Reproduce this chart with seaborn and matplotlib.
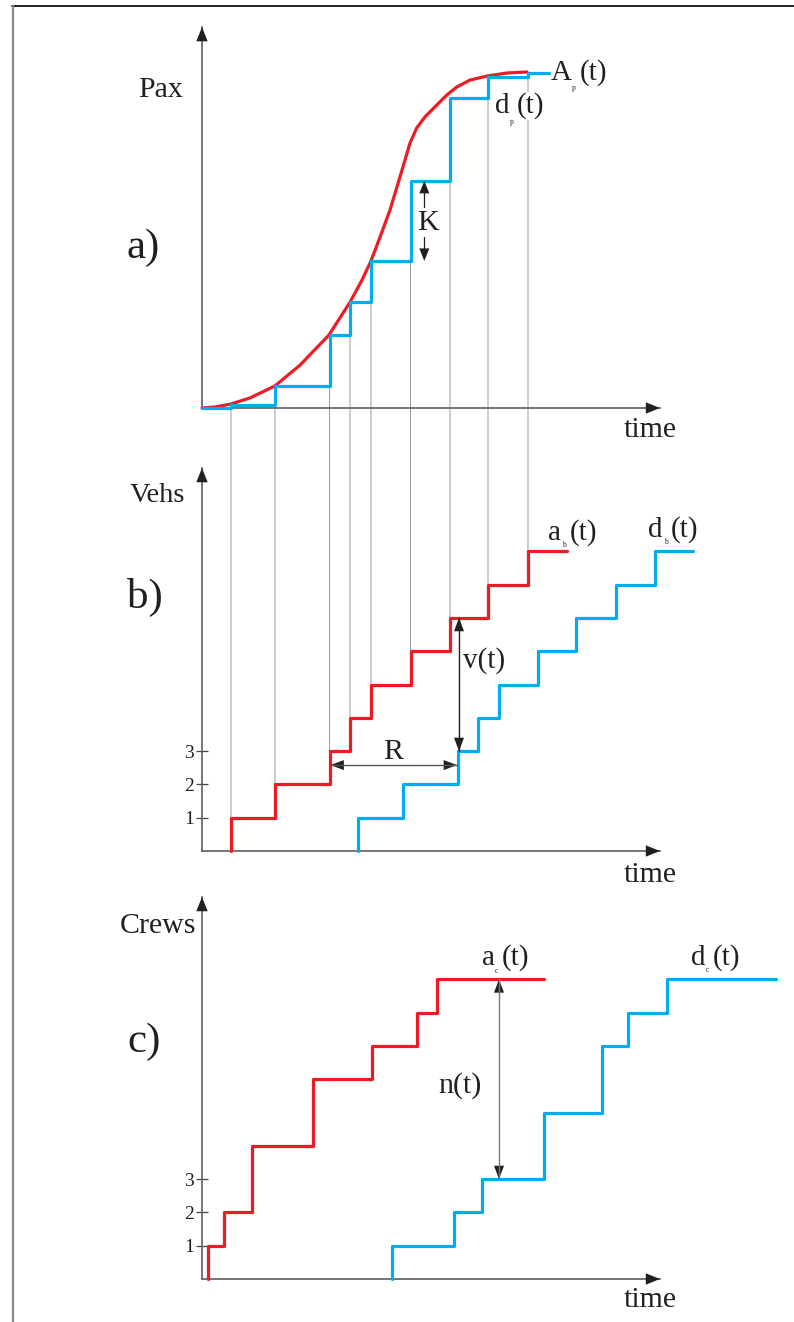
import matplotlib
matplotlib.use("Agg")
import matplotlib.pyplot as plt
from matplotlib.patches import ConnectionPatch
from matplotlib.lines import Line2D
import seaborn as sns

# ---------------- data ----------------
# panel a) passengers (Pax, % of total) against time (arbitrary units)
ap_time = [0, 1.3, 2.9, 4.8, 7.3, 9.8, 12.7, 14.8, 16.0, 16.9, 17.8, 18.8, 19.8,
           20.3, 20.8, 21.47, 22.3, 23.3, 24.47, 25.47, 26.8, 28.5, 30.5, 32.5]
ap_pax = [0, 0.3, 1.2, 3.0, 6.6, 12.8, 21.8, 31.6, 38.2, 43.9, 51.0, 59.1, 69.0,
          74.0, 79.1, 83.6, 86.9, 89.9, 93.4, 95.8, 97.9, 99.1, 100.0, 100.3]

# vehicle departures with passengers = vehicle arrivals a_b(t)
veh_arr_times = [2.9, 7.3, 12.75, 14.8, 16.9, 20.85, 24.8, 28.6, 32.6]
dp_levels = [0.9, 6.6, 21.8, 31.6, 43.9, 67.8, 92.6, 98.9, 100.0]
dp_end = 34.7

# panel b) vehicles
ab_levels = [1, 2, 3, 4, 5, 6, 7, 8, 9]
ab_end = 36.5
db_times = [15.55, 20.07, 25.55, 27.6, 29.7, 33.57, 37.4, 41.35, 45.3]
db_levels = [1, 2, 3, 4, 5, 6, 7, 8, 9]
db_end = 49.1

# panel c) crews
ac_times = [0.63, 2.2, 4.97, 11.13, 16.97, 21.47, 23.47]
ac_levels = [1, 2, 4, 6, 7, 8, 9]
ac_end = 34.2
dc_times = [19.03, 25.23, 28.03, 34.2, 39.97, 42.57, 46.53]
dc_levels = [1, 2, 3, 5, 7, 8, 9]
dc_end = 57.4

tick_vals = [1, 2, 3]
tick_labels = ["1", "2", "3"]

RED = "#ED1C24"
BLUE = "#00AEEF"
INK = "#231F20"
AXC = "#5f5f5f"

# ---------------- figure ----------------
sns.set_theme(style="white")
plt.rcParams["font.family"] = ["Liberation Serif", "DejaVu Serif"]

W, H = 794, 1322
fig = plt.figure(figsize=(W / 100, H / 100), dpi=100)
fig.patch.set_facecolor("white")

X0 = 202          # pixel column of all time origins
TSCALE = 10.0     # pixels per time unit


def make_ax(y0, ytop, yscale):
    ax = fig.add_axes([X0 / W, 1 - y0 / H, (W - X0) / W, (y0 - ytop) / H])
    ax.set_xlim(0, (W - X0) / TSCALE)
    ax.set_ylim(0, (y0 - ytop) / yscale)
    ax.patch.set_visible(False)
    for s in ["top", "right"]:
        ax.spines[s].set_visible(False)
    for s in ["left", "bottom"]:
        ax.spines[s].set_color(AXC)
        ax.spines[s].set_linewidth(1.2)
    ax.set_xticks([])
    ax.set_yticks([])
    ax.grid(False)
    return ax


ax_a = make_ax(408, 15, 3.35)
ax_b = make_ax(851, 455, 33.3)
ax_c = make_ax(1279, 885, 33.3)


def head(ax, xy, frm, color=INK, hl=0.85, hw=0.34):
    ax.annotate("", xy=xy, xytext=frm,
                arrowprops=dict(arrowstyle=f"-|>,head_length={hl},head_width={hw}",
                                color=color, lw=0.01, shrinkA=0, shrinkB=0),
                annotation_clip=False)


def axis_arrows(ax, xtip, ytip):
    ax.spines["left"].set_bounds(0, ytip)
    ax.spines["bottom"].set_bounds(0, xtip)
    head(ax, (0, ytip), (0, 0))
    head(ax, (xtip, 0), (0, 0))


axis_arrows(ax_a, 45.8, 113.7)
axis_arrows(ax_b, 45.8, 11.5)
axis_arrows(ax_c, 45.8, 11.47)

for ax in (ax_b, ax_c):
    ax.set_yticks(tick_vals)
    ax.set_yticklabels(tick_labels)
    ax.tick_params(axis="y", direction="inout", length=8, width=0.9,
                   color="#444444", labelsize=14, labelcolor=INK, pad=2, left=True)


def steps(ax, start, times, levels, end, color, base=0):
    xs = [start] + list(times) + [end]
    ys = [base] + list(levels) + [levels[-1]]
    sns.lineplot(x=xs, y=ys, ax=ax, color=color, lw=2.3, drawstyle="steps-post",
                 sort=False, estimator=None, clip_on=False, zorder=3)


# panel a
sns.lineplot(x=ap_time, y=ap_pax, ax=ax_a, color=RED, lw=2.3, sort=False,
             estimator=None, clip_on=False, zorder=3)
steps(ax_a, 0, veh_arr_times, dp_levels, dp_end, BLUE)

# panel b
steps(ax_b, veh_arr_times[0], veh_arr_times, ab_levels, ab_end, RED)
steps(ax_b, db_times[0], db_times, db_levels, db_end, BLUE)

# panel c
steps(ax_c, ac_times[0], ac_times, ac_levels, ac_end, RED)
steps(ax_c, dc_times[0], dc_times, dc_levels, dc_end, BLUE)

# thin grey connectors between a) and b)
prev = [0] + dp_levels[:-1]
for t, lo, lv in zip(veh_arr_times, prev, ab_levels):
    con = ConnectionPatch(xyA=(t, lo), coordsA=ax_a.transData,
                          xyB=(t, lv), coordsB=ax_b.transData,
                          color="#9a9a9a", lw=0.7, zorder=-1)
    fig.add_artist(con)

# K gap arrows
tk = 22.23
head(ax_a, (tk, dp_levels[5]), (tk, 60.0), hl=0.75, hw=0.3)
ax_a.plot([tk, tk], [60.0, dp_levels[5] - 2], color=INK, lw=0.9)
head(ax_a, (tk, dp_levels[4]), (tk, 51.0), hl=0.75, hw=0.3)
ax_a.plot([tk, tk], [51.0, dp_levels[4] + 2], color=INK, lw=0.9)


def double_arrow(ax, p1, p2, shaft=INK):
    ax.plot([p1[0], p2[0]], [p1[1], p2[1]], color=shaft, lw=1.0, zorder=4)
    head(ax, p1, p2, hl=0.8, hw=0.3)
    head(ax, p2, p1, hl=0.8, hw=0.3)


# R : headway between a_b and d_b at level 3
double_arrow(ax_b, (veh_arr_times[2] + 0.1, 2.58), (db_times[2] - 0.05, 2.58), shaft="#555555")
# v(t)
double_arrow(ax_b, (25.7, ab_levels[6]), (25.7, db_levels[2]), shaft=INK)
# n(t)
double_arrow(ax_c, (29.7, ac_levels[-1]), (29.7, dc_levels[2]), shaft="#7a7a7a")


# ---------------- text ----------------
def ptxt(x, y, s, size=21, ha="left", va="baseline", **kw):
    return fig.text(x / W, 1 - y / H, s, fontsize=size, ha=ha, va=va, color=INK, **kw)


ptxt(138, 97, "Pax", 21.5)
ptxt(127, 258, "a)", 31)
ptxt(130, 502, "Vehs", 20.5)
ptxt(127, 608, "b)", 31)
ptxt(120, 933, "Crews", 21.5)
ptxt(127, 1052, "c)", 31)
for yb in (437, 882, 1307):
    ptxt(624, yb, "time", 21.5)

ptxt(417, 230, "K", 21.5)
ptxt(393, 759, "R", 21.5, ha="center")
ptxt(463, 668, "v(t)", 21)
ptxt(438, 1093, "n(t)", 21.5)


def curve_label(x, yb, main, sub, xsub, ysub, xpar, bg=False):
    kw = dict(bbox=dict(facecolor="white", edgecolor="none", pad=0.5)) if bg else {}
    ptxt(x, yb, main, 21, **kw)
    ptxt(xsub, ysub, sub, 5.5)
    ptxt(xpar, yb, "(t)", 21, **kw)


curve_label(551, 80, "A", "p", 572, 90, 580)
curve_label(495, 113, "d", "p", 510, 124, 517, bg=True)
curve_label(548, 540, "a", "b", 562, 547, 570)
curve_label(648, 537, "d", "b", 664, 544, 671)
curve_label(482, 965, "a", "c", 495, 973, 502)
curve_label(691, 965, "d", "c", 706, 972, 713)

# page frame
fig.add_artist(Line2D([12 / W, 1.0], [1 - 6 / H, 1 - 6 / H], color="#222222", lw=1.4))
fig.add_artist(Line2D([12.5 / W, 12.5 / W], [0, 1 - 6 / H], color="#8a8a8a", lw=1.6))

fig.savefig("out.png", dpi=100, facecolor="white")
